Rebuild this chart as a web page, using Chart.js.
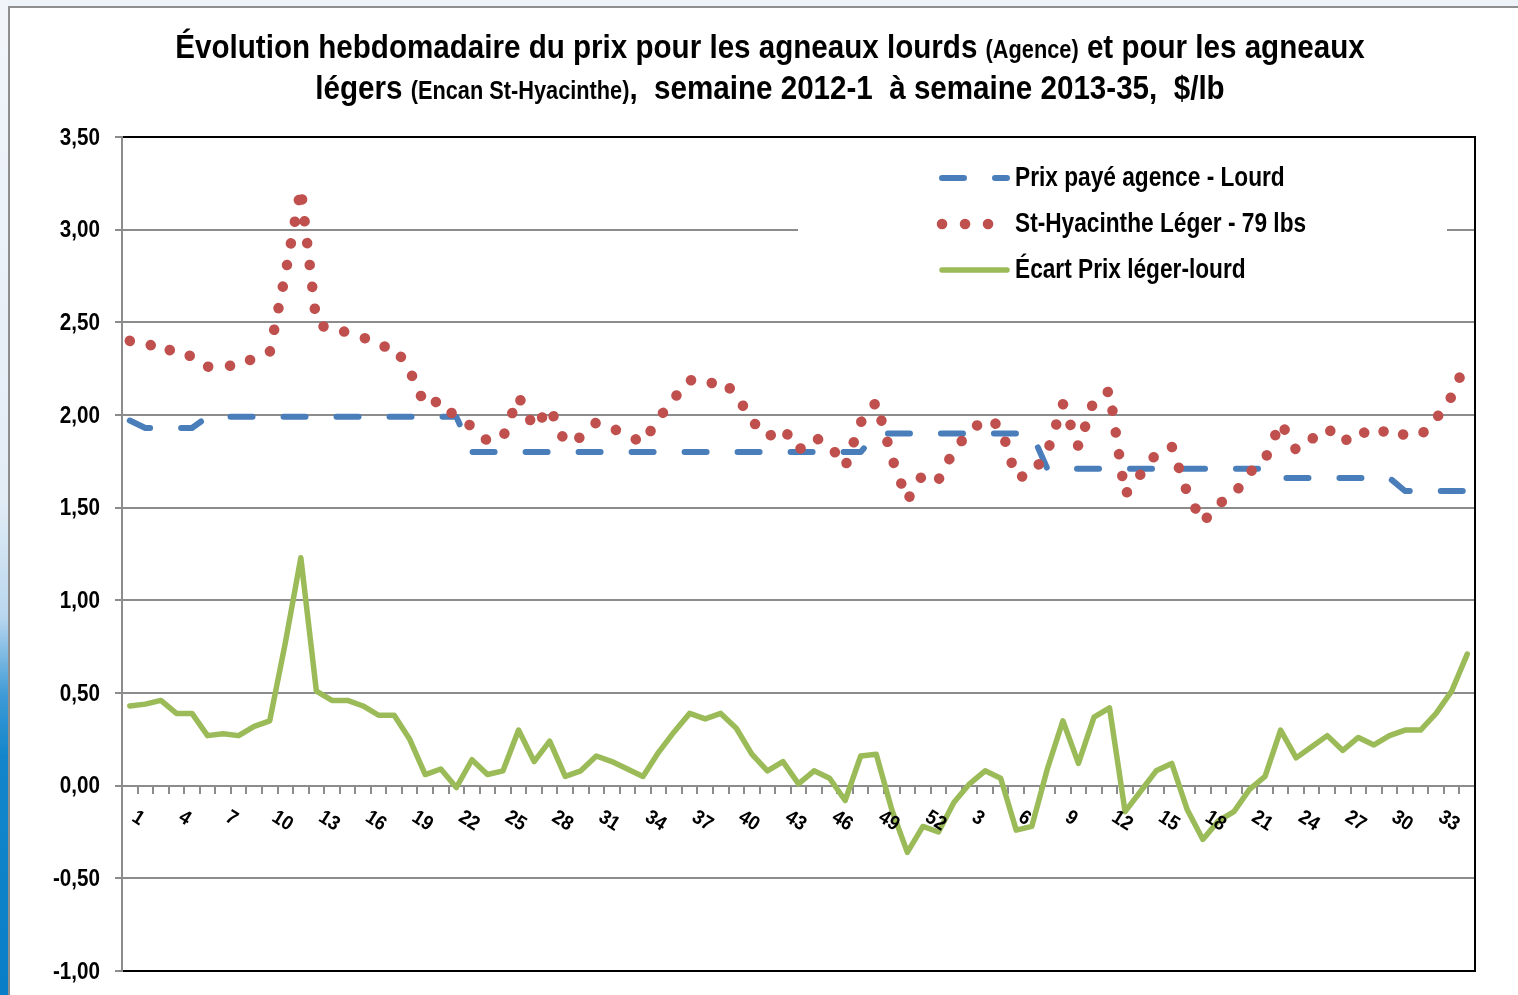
<!DOCTYPE html>
<html>
<head>
<meta charset="utf-8">
<script src="https://cdn.jsdelivr.net/npm/chart.js@4.4.1/dist/chart.umd.min.js"></script>
<style>
  html, body { margin:0; padding:0; background:#fff; }
  #wrap { position:relative; width:1518px; height:995px; overflow:hidden; background:#fff; }
  #topband { position:absolute; left:0; top:0; width:1518px; height:6px; background:#eef3f9; }
  #strip { position:absolute; left:0; top:0; width:8px; height:995px;
    background:linear-gradient(to bottom, #f1f5fa 0%, #e3edf6 50%, #b9d6ee 62%, #3d9ad6 70%, #1386cb 76%, #0a7fc7 100%); }
  #frameL { position:absolute; left:8px; top:6px; width:2px; height:989px; background:#8e8e8e; }
  #frameT { position:absolute; left:8px; top:6px; width:1510px; height:2px; background:#8e8e8e; }
  #c { position:absolute; left:0; top:0; }
  .title { position:absolute; left:22px; width:1496px; text-align:center; white-space:pre;
    font-family:"Liberation Sans Narrow","Arial Narrow","Liberation Sans",sans-serif; font-weight:bold; color:#000;
    transform:scaleX(0.87); transform-origin:748px 50%; }
  .title .sm { font-size:25px; }
  #t1 { top:25px; font-size:34px; line-height:42px; }
  #t2 { top:66px; font-size:34px; line-height:42px; }
</style>
</head>
<body>
<div id="wrap">
  <div id="topband"></div>
  <div id="strip"></div>
  <div id="frameT"></div>
  <div id="frameL"></div>
  <canvas id="c" width="1518" height="995"></canvas>
  <div class="title" id="t1">Évolution hebdomadaire du prix pour les agneaux lourds <span class="sm">(Agence)</span> et pour les agneaux</div>
  <div class="title" id="t2">légers <span class="sm">(Encan St-Hyacinthe)</span>,  semaine 2012-1  à semaine 2013-35,  $/lb</div>
</div>
<script>
// Week numbers: 2012 weeks 1-52, then 2013 weeks 1-35
const weeks = [
  1,2,3,4,5,6,7,8,9,10,11,12,13,14,15,16,17,18,19,20,21,22,23,24,25,26,
  27,28,29,30,31,32,33,34,35,36,37,38,39,40,41,42,43,44,45,46,47,48,49,50,51,52,
  1,2,3,4,5,6,7,8,9,10,11,12,13,14,15,16,17,18,19,20,21,22,23,24,25,26,
  27,28,29,30,31,32,33,34,35
];

// Prix payé agence - Lourd ($/lb)
const lourd = [
  1.97,1.93,1.93,1.93,1.93,1.99,1.99,1.99,1.99,1.99,1.99,1.99,1.99,1.99,1.99,1.99,
  1.99,1.99,1.99,1.99,1.99,1.99,
  1.80,1.80,1.80,1.80,1.80,1.80,1.80,1.80,1.80,1.80,1.80,1.80,1.80,1.80,1.80,1.80,
  1.80,1.80,1.80,1.80,1.80,1.80,1.80,1.80,1.80,1.80,
  1.90,1.90,1.90,1.90,
  1.90,1.90,1.90,1.90,1.90,1.90,1.90,
  1.71,1.71,1.71,1.71,1.71,1.71,1.71,1.71,1.71,1.71,1.71,1.71,1.71,1.71,1.71,
  1.66,1.66,1.66,1.66,1.66,1.66,1.66,1.66,
  1.59,1.59,1.59,1.59,1.59
];

// St-Hyacinthe Léger - 79 lbs ($/lb)
const leger = [
  2.40,2.37,2.39,2.32,2.32,2.26,2.27,2.26,2.31,2.34,2.76,3.22,2.50,2.45,2.45,2.42,
  2.37,2.37,2.24,2.05,2.08,1.98,1.94,1.86,1.88,2.10,1.93,2.04,1.85,1.88,1.96,1.93,
  1.89,1.85,1.98,2.09,2.19,2.16,2.19,2.11,1.97,1.88,1.93,1.81,1.88,1.84,1.72,1.96,
  2.07,1.77,1.54,1.68,
  1.65,1.81,1.91,1.98,1.94,1.66,1.68,1.80,2.06,1.83,2.08,2.13,1.57,1.68,1.79,1.83,
  1.58,1.42,1.52,1.57,1.69,1.76,1.96,1.81,1.87,1.93,1.85,1.92,1.88,1.93,1.89,1.89,
  1.98,2.10,2.30
];

// Écart Prix léger-lourd ($/lb)
const ecart = [
  0.43,0.44,0.46,0.39,0.39,0.27,0.28,0.27,0.32,0.35,0.77,1.23,0.51,0.46,0.46,0.43,
  0.38,0.38,0.25,0.06,0.09,-0.01,0.14,0.06,0.08,0.30,0.13,0.24,0.05,0.08,0.16,0.13,
  0.09,0.05,0.18,0.29,0.39,0.36,0.39,0.31,0.17,0.08,0.13,0.01,0.08,0.04,-0.08,0.16,
  0.17,-0.13,-0.36,-0.22,
  -0.25,-0.09,0.01,0.08,0.04,-0.24,-0.22,0.09,0.35,0.12,0.37,0.42,-0.14,-0.03,0.08,0.12,
  -0.13,-0.29,-0.19,-0.14,-0.02,0.05,0.30,0.15,0.21,0.27,0.19,0.26,0.22,0.27,0.30,0.30,
  0.39,0.51,0.71
];

const seriesNames = ['Prix payé agence - Lourd', 'St-Hyacinthe Léger - 79 lbs', 'Écart Prix léger-lourd'];
const yTicks = [-1, -0.5, 0, 0.5, 1, 1.5, 2, 2.5, 3, 3.5];

const FONT = '"Liberation Sans Narrow","Arial Narrow","Liberation Sans",sans-serif';
const GRID = '#8c8c8c';
const NARROW = 0.86;

const frameLines = {
  id: 'frameLines',
  beforeDatasetsDraw(chart) {
    const {ctx, chartArea: a} = chart;
    ctx.save();
    ctx.strokeStyle = '#000';
    ctx.lineWidth = 2;
    ctx.beginPath();
    ctx.moveTo(a.right, a.top - 1);
    ctx.lineTo(a.right, a.bottom + 1);
    ctx.stroke();
    ctx.restore();
  }
};

const axisLabels = {
  id: 'axisLabels',
  afterDraw(chart) {
    const {ctx} = chart;
    const xs = chart.scales.x, ys = chart.scales.y;
    const y0 = ys.getPixelForValue(0);
    ctx.save();
    ctx.fillStyle = '#000';
    // y tick labels
    ctx.font = 'bold 24px ' + FONT;
    ctx.textAlign = 'right';
    ctx.textBaseline = 'middle';
    yTicks.forEach(v => {
      const y = ys.getPixelForValue(v);
      ctx.save();
      ctx.translate(100, y + 1);
      ctx.scale(NARROW, 1);
      ctx.fillText(v.toFixed(2).replace('.', ','), 0, 0);
      ctx.restore();
    });
    // x tick labels (every 3rd week), rotated
    ctx.font = 'bold 20px ' + FONT;
    ctx.textAlign = 'left';
    weeks.forEach((w, i) => {
      if (i % 3 !== 0) return;
      const x = xs.getPixelForValue(i);
      ctx.save();
      ctx.translate(x + 4, y0 + 30);
      ctx.rotate(32 * Math.PI / 180);
      ctx.scale(0.92, 1);
      ctx.fillText(String(w), 0, 0);
      ctx.restore();
    });
    ctx.restore();
  }
};

const customLegend = {
  id: 'customLegend',
  afterDraw(chart) {
    const {ctx} = chart;
    ctx.save();
    ctx.fillStyle = '#fff';
    ctx.fillRect(798, 150, 649, 142);
    chart.data.datasets.forEach((ds, i) => {
      const y = 178 + 46 * i;
      ctx.save();
      ctx.strokeStyle = ds.borderColor;
      ctx.lineWidth = ds.borderWidth;
      ctx.lineCap = ds.borderCapStyle || 'butt';
      ctx.setLineDash(ds.borderDash || []);
      ctx.beginPath();
      if (i === 1) { ctx.setLineDash([0.1, 22.9]); ctx.moveTo(942, y); ctx.lineTo(992, y); }
      else { ctx.moveTo(942, y); ctx.lineTo(1007, y); }
      ctx.stroke();
      ctx.restore();
      ctx.save();
      ctx.font = 'bold 27px ' + FONT;
      ctx.fillStyle = '#000';
      ctx.textAlign = 'left';
      ctx.textBaseline = 'middle';
      ctx.translate(1015, y + 1);
      ctx.scale(0.84, 1);
      ctx.fillText(ds.label, 0, 0);
      ctx.restore();
    });
    ctx.restore();
  }
};

new Chart(document.getElementById('c'), {
  type: 'line',
  data: {
    labels: weeks.map(String),
    datasets: [
      { label: seriesNames[0], data: lourd, borderColor: '#4A7EBB', borderWidth: 6,
        borderDash: [22, 31], borderCapStyle: 'round', borderJoinStyle: 'round', order: 3 },
      { label: seriesNames[1], data: leger, borderColor: '#C0504D', borderWidth: 10.5,
        borderDash: [0.1, 21.9], borderCapStyle: 'round', borderJoinStyle: 'round', order: 2 },
      { label: seriesNames[2], data: ecart, borderColor: '#9BBB59', borderWidth: 5.5,
        borderCapStyle: 'round', borderJoinStyle: 'round', order: 1 }
    ]
  },
  options: {
    responsive: false,
    animation: false,
    layout: { padding: { left: 0, top: 137, right: 43, bottom: 24 } },
    elements: { point: { radius: 0, hoverRadius: 0 }, line: { tension: 0, fill: false } },
    plugins: { legend: { display: false }, title: { display: false }, tooltip: { enabled: false } },
    scales: {
      x: {
        type: 'category',
        position: { y: 0 },
        offset: true,
        grid: { drawOnChartArea: false, drawTicks: true, tickLength: 7, offset: true, color: GRID, lineWidth: 2 },
        border: { color: GRID, width: 2 },
        ticks: { display: false, autoSkip: false }
      },
      y: {
        min: -1, max: 3.5,
        afterBuildTicks: (s) => { s.ticks = yTicks.map(v => ({ value: v })); },
        afterFit: (s) => { s.width = 122; },
        ticks: { display: false },
        grid: {
          color: (c) => (c.tick && (c.tick.value === 3.5 || c.tick.value === -1)) ? '#000' : GRID,
          tickColor: GRID, lineWidth: 2, tickLength: 7
        },
        border: { color: GRID, width: 2 }
      }
    }
  },
  plugins: [frameLines, axisLabels, customLegend]
});
</script>
</body>
</html>
